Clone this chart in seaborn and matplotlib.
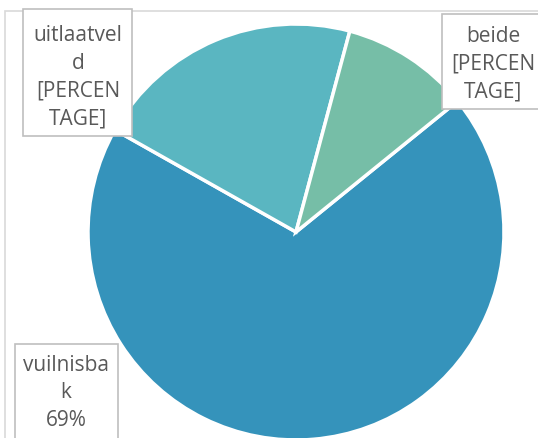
"""
Pie chart: waar wordt de hondenpoep gedeponeerd.
"""
import matplotlib
matplotlib.use("Agg")
import matplotlib.pyplot as plt
from matplotlib.patches import Rectangle
import seaborn as sns

categories = ["vuilnisbak", "uitlaatveld", "beide"]
shares = [69, 21, 10]
label_texts = ["vuilnisba\nk\n69%",
               "uitlaatvel\nd\n[PERCEN\nTAGE]",
               "beide\n[PERCEN\nTAGE]"]
colors = ["#3593BB", "#5AB6C1", "#76BEA7"]

W, H = 538, 439

sns.set_theme(style="white")
plt.rcParams["font.family"] = ["Open Sans", "DejaVu Sans"]


def fig_box(x0, y0, x1, y1):
    # pixel box (from top-left) -> figure fraction [left, bottom, w, h]
    return [x0 / W, 1 - y1 / H, (x1 - x0) / W, (y1 - y0) / H]


fig = plt.figure(figsize=(W / 100, H / 100), dpi=100)

# chart area border (cropped)
fig.patches.append(Rectangle((5 / W, -0.1), 1.2, 1 - 12 / H + 0.1,
                             transform=fig.transFigure, fill=False,
                             edgecolor="#D9D9D9", linewidth=1.2))

# pie: centre (296, 233), radius 208 px
cx, cy, r = 296, 233, 208
ax = fig.add_axes(fig_box(cx - r, cy - r, cx + r, cy + r))
ax.pie(shares, colors=colors, startangle=39, counterclock=False,
       radius=1, wedgeprops=dict(edgecolor="white", linewidth=2.5))
ax.set_xlim(-1, 1)
ax.set_ylim(-1, 1)
ax.set_aspect("equal")
ax.axis("off")

# data label boxes (pixel positions from the reference)
boxes = [(15, 345, 118, 460), (23, 10, 132, 137), (442, 15, 560, 110)]
for (x0, y0, x1, y1), txt in zip(boxes, label_texts):
    fig.patches.append(Rectangle((x0 / W, 1 - y1 / H), (x1 - x0) / W,
                                 (y1 - y0) / H, transform=fig.transFigure,
                                 facecolor="white", edgecolor="#BFBFBF",
                                 linewidth=1.2, zorder=3))

text_pos = [(66, 393), (78, 77), (493, 64)]
for (tx, ty), txt in zip(text_pos, label_texts):
    fig.text(tx / W, 1 - ty / H, txt, ha="center", va="center",
             fontsize=15, color="#595959", linespacing=1.43,
             multialignment="center", zorder=4)

fig.savefig("out.png", dpi=100)
